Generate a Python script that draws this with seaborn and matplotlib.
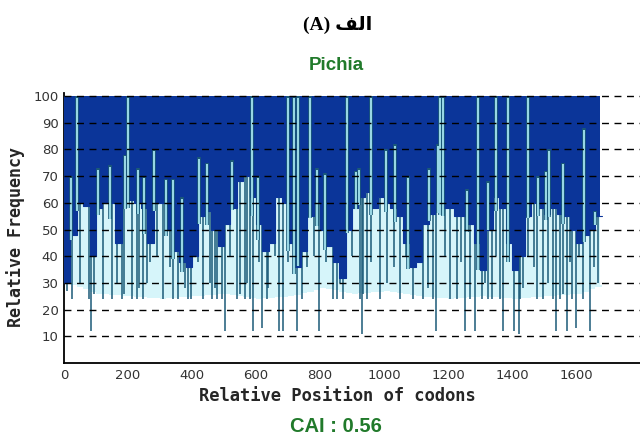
import numpy as np
import matplotlib
matplotlib.use("Agg")
import matplotlib.pyplot as plt
import seaborn as sns

# envelope of the dark blue area (lower edge), every 20 codons
env_pos = np.arange(0, 1700, 20)
env_val = [30, 48, 60, 59, 40, 58, 60, 60, 45, 60, 61, 60, 58, 45, 60, 60, 50, 42, 38, 36,
           40, 55, 57, 50, 44, 52, 58, 68, 70, 62, 52, 42, 45, 62, 60, 45, 36, 42, 55, 60,
           50, 44, 38, 32, 50, 58, 62, 64, 58, 62, 60, 58, 55, 45, 36, 38, 52, 56, 60, 58,
           58, 55, 55, 52, 45, 35, 50, 62, 58, 45, 35, 40, 55, 60, 58, 56, 58, 56, 55, 50,
           45, 48, 50, 55, 55]

# lower edge of the light cyan band, every 100 codons
floor_pos = np.arange(0, 1800, 100)
floor_val = [30, 26, 25, 24, 25, 26, 24, 25, 28, 26, 27, 25, 24, 25, 24, 25, 26, 30]

# codons with low frequency (dark lines going down)
drop_pos = [84, 503, 591, 619, 672, 684, 728, 797, 931, 1163, 1253, 1284, 1372, 1406, 1422,
            1538, 1572, 1600, 1644,
            9, 25, 50, 78, 94, 122, 150, 166, 181, 188, 213, 228, 234, 247, 259, 309, 341,
            356, 378, 388, 397, 434, 456, 478, 463, 472, 494, 541, 550, 566, 572, 581, 634,
            638, 744, 841, 853, 863, 872, 925, 934, 947, 988, 1009, 1050, 1091, 1122, 1138,
            1153, 1206, 1228, 1269, 1306, 1316, 1325, 1338, 1363, 1425, 1434, 1478, 1497,
            1513, 1528, 1550, 1559, 1588, 1622, 1669,
            270, 290, 330, 420, 520, 610, 660, 700, 760, 780, 820, 900, 960, 1030, 1070,
            1110, 1190, 1240, 1350, 1390, 1450, 1470, 1580, 1610, 1655]
drop_val = [12, 12, 12, 13, 12, 12, 12, 12, 11, 12, 12, 12, 12, 12, 11,
            12, 12, 13, 12,
            27, 24, 30, 24, 26, 24, 24, 30, 24, 26, 24, 24, 28, 24, 30, 24, 24,
            24, 28, 24, 24, 24, 30, 24, 24, 28, 24, 24, 26, 24, 30, 24, 24,
            28, 24, 24, 24, 30, 24, 24, 26, 24, 24, 30, 24, 24, 24, 28,
            24, 24, 24, 24, 24, 30, 24, 24, 24, 24, 28, 24, 24,
            30, 24, 24, 26, 24, 24, 30,
            38, 40, 36, 38, 40, 38, 40, 38, 36, 40, 38, 40, 38, 36, 40,
            38, 40, 38, 40, 38, 40, 36, 38, 40, 36]

# codons with high frequency (light lines going up)
peak_pos = [41, 200, 281, 22, 106, 144, 191, 231, 250, 319, 341, 369, 422, 447, 525, 588,
            606, 700, 719, 731, 769, 791, 816, 884, 913, 922, 959, 1006, 1034, 1075, 1141,
            1169, 1175, 1184, 1259, 1294, 1325, 1350, 1388, 1450, 1481, 1506, 1516, 1559,
            1625, 1659]
peak_val = [100, 100, 80, 70, 73, 74, 78, 73, 70, 69, 69, 62, 77, 75, 76, 100,
            70, 100, 100, 100, 100, 73, 71, 100, 72, 73, 100, 80, 82, 70, 73,
            82, 100, 100, 65, 100, 68, 100, 100, 100, 70, 72, 80, 75,
            88, 57]

y_ticks = [10, 20, 30, 40, 50, 60, 70, 80, 90, 100]
x_ticks = [0, 200, 400, 600, 800, 1000, 1200, 1400, 1600]

sns.set_theme(style="white")

blue = "#0b3599"
cyan = "#d6f5fa"
teal = "#1b5a78"
light = "#a6e4f0"
green = "#217a2b"

fig = plt.figure(figsize=(6.4, 4.37), dpi=100)
ax = fig.add_axes([0.1, 0.169, 0.9, 0.6175])

env_x = list(env_pos) + [1675]
env_y = list(env_val[:len(env_pos)]) + [env_val[-1]]
floor_y = np.interp(env_x, floor_pos, floor_val)

ax.fill_between(env_x, floor_y, env_y, step="post", color=cyan, lw=0, zorder=1)
ax.vlines(drop_pos, drop_val, 100, color=teal, lw=1.1, zorder=2)
ax.fill_between(env_x, env_y, 100, step="post", color=blue, lw=0, zorder=3)
sns.lineplot(x=env_x, y=env_y, drawstyle="steps-post", color=blue, lw=0.8, ax=ax, zorder=3)

base = np.interp(peak_pos, env_x, env_y) - 3
ax.vlines(peak_pos, base, peak_val, color=teal, lw=2.6, zorder=4)
ax.vlines(peak_pos, base, np.array(peak_val) - 0.6, color=light, lw=1.3, zorder=5)

for y in y_ticks:
    ax.axhline(y, color="black", lw=1.0, ls=(0, (5, 4)), zorder=6)

ax.set_xlim(0, 1800)
ax.set_ylim(0, 101)
ax.set_xticks(x_ticks)
ax.set_yticks(y_ticks)
ax.tick_params(axis="both", direction="in", length=3, width=1, colors="#222222",
               labelsize=9.5, labelcolor="#333333", pad=4)
for lab in ax.get_xticklabels() + ax.get_yticklabels():
    lab.set_family("DejaVu Sans")
for side in ["top", "right"]:
    ax.spines[side].set_visible(False)
for side in ["left", "bottom"]:
    ax.spines[side].set_color("black")
    ax.spines[side].set_linewidth(1.3)
ax.set_xlabel("")
ax.set_ylabel("")

fig.text(0.024, 0.457, "Relative Frequency", rotation=90, ha="center", va="center",
         family="DejaVu Sans Mono", weight="bold", fontsize=12)
fig.text(0.527, 0.094, "Relative Position of codons", ha="center", va="center",
         family="DejaVu Sans Mono", weight="bold", fontsize=12.3)
fig.text(0.525, 0.851, "Pichia", ha="center", va="center", color=green,
         family="Liberation Sans", weight="bold", fontsize=13.5)
fig.text(0.525, 0.025, "CAI : 0.56", ha="center", va="center", color=green,
         family="Liberation Sans", weight="bold", fontsize=14.5)
fig.text(0.527, 0.943, "(A) \ufed2\ufedf\ufe8d", ha="center", va="center", color="black",
         family=["Liberation Serif", "DejaVu Sans"], weight="bold", fontsize=14)

fig.savefig("out.png", dpi=100, facecolor="white")
